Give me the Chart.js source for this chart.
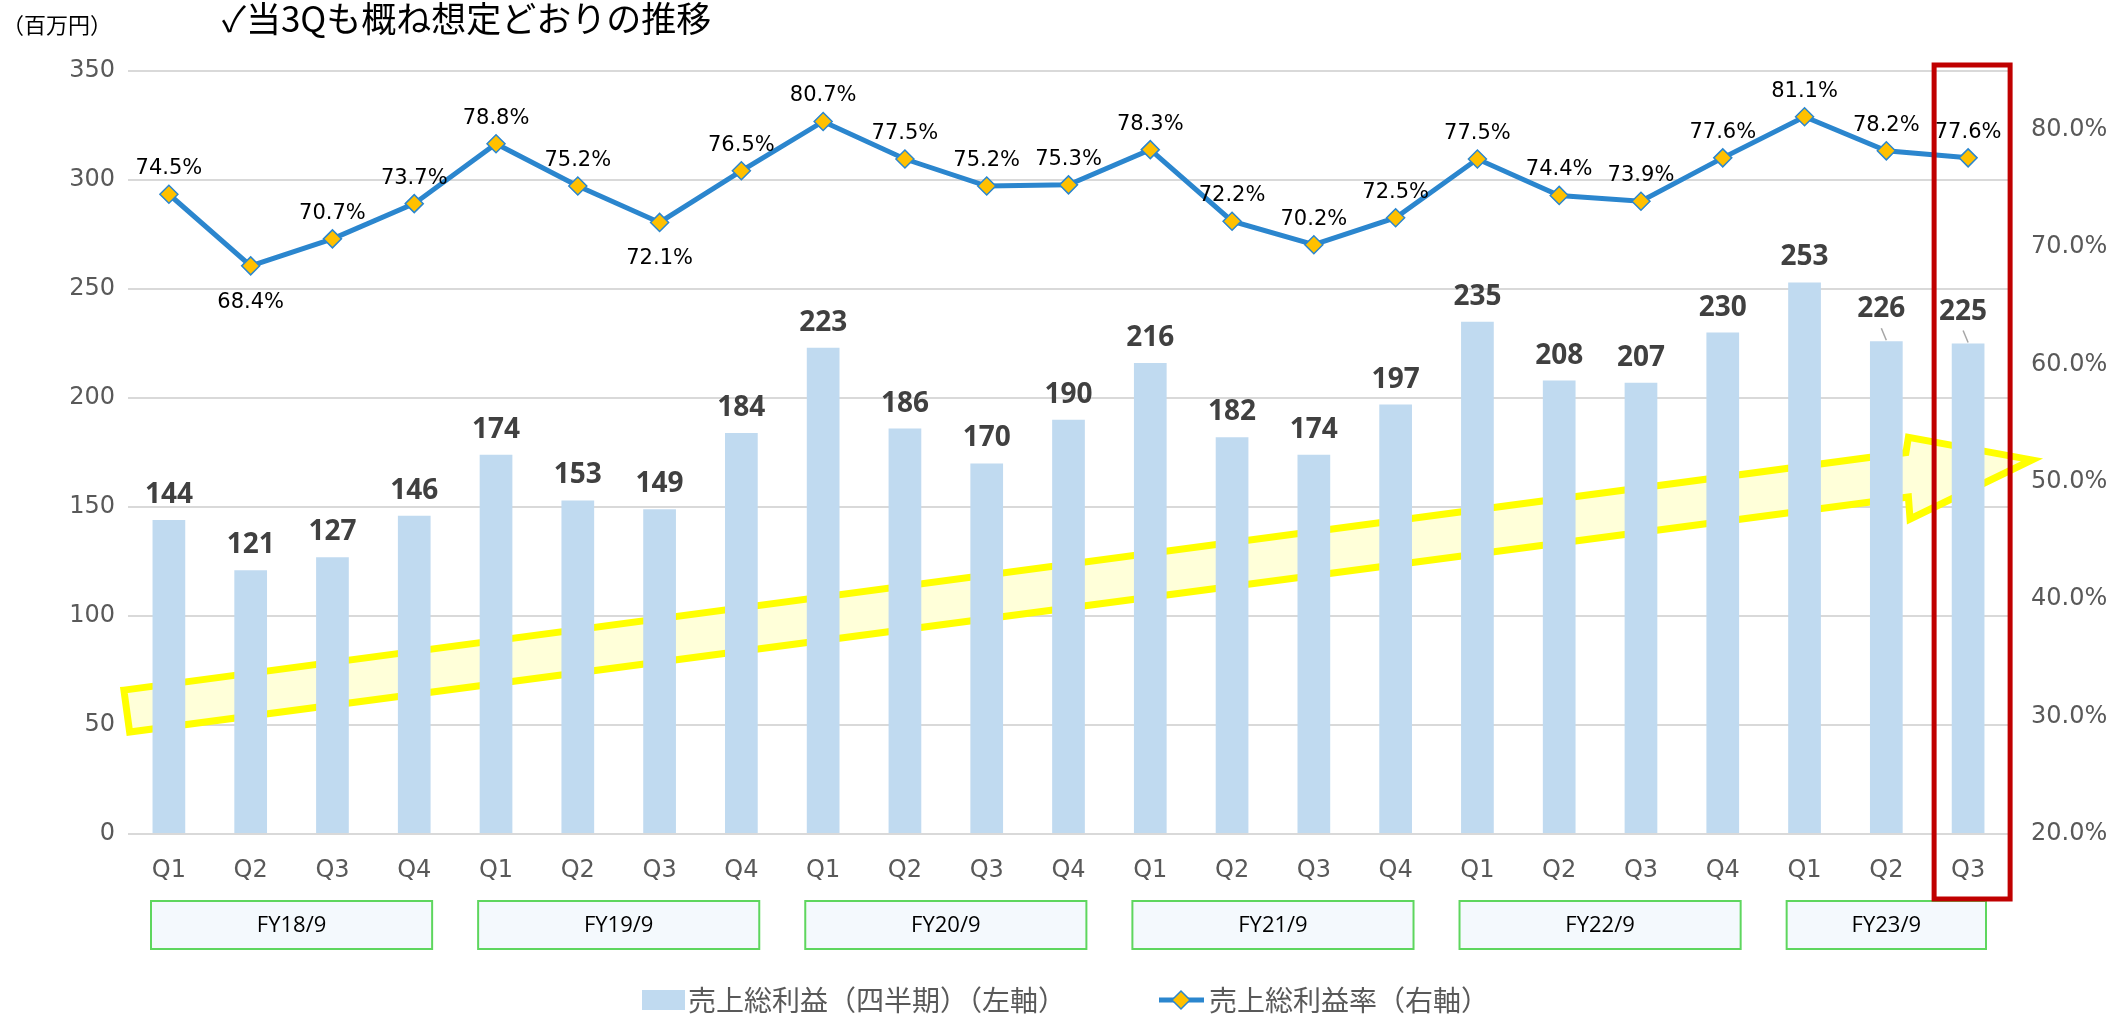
<!DOCTYPE html>
<html lang="ja">
<head>
<meta charset="utf-8">
<script src="https://cdn.jsdelivr.net/npm/chart.js@4.4.1/dist/chart.umd.min.js"></script>
<style>
html, body { margin: 0; padding: 0; background: #fff; }
#wrap { width: 2114px; height: 1015px; position: relative; }
</style>
</head>
<body>
<div id="wrap"><canvas id="myChart"></canvas></div>
<script>
// データ
const quarters = ['Q1','Q2','Q3','Q4','Q1','Q2','Q3','Q4','Q1','Q2','Q3','Q4',
                  'Q1','Q2','Q3','Q4','Q1','Q2','Q3','Q4','Q1','Q2','Q3'];
const fiscalYears = ['FY18/9','FY19/9','FY20/9','FY21/9','FY22/9','FY23/9'];
const fyQuarterCount = [4, 4, 4, 4, 4, 3];
const grossProfit = [144,121,127,146,174,153,149,184,223,186,170,190,
                     216,182,174,197,235,208,207,230,253,226,225];
const grossMargin = [74.5,68.4,70.7,73.7,78.8,75.2,72.1,76.5,80.7,77.5,75.2,75.3,
                     78.3,72.2,70.2,72.5,77.5,74.4,73.9,77.6,81.1,78.2,77.6];
const leftTicks = [0, 50, 100, 150, 200, 250, 300, 350];
const rightTicks = [20, 30, 40, 50, 60, 70, 80];

const FONT_JP = '"Noto Sans CJK JP", "Noto Sans", sans-serif';
const BAR_COLOR = '#C0DAF0';
const LINE_COLOR = '#2B86CE';
const MARKER_COLOR = '#FFC000';

// 下側にラベルを置く点 / 引き出し線付きの棒
const labelBelow = [1, 6];
const leaderIdx = [21, 22];

// 黄色い矢印 (x: カテゴリ位置, y: 左軸の値)
const arrowShape = [[-0.55, 66], [21.24, 175], [21.27, 182], [22.78, 171.6],
                    [21.29, 144.5], [21.27, 154.6], [-0.48, 46.8]];

const decorPlugin = {
    id: 'decor',
    beforeDatasetsDraw(chart) {
        const { ctx, scales: { x, y } } = chart;
        ctx.save();
        ctx.beginPath();
        arrowShape.forEach(([i, v], k) => {
            const px = x.getPixelForValue(i), py = y.getPixelForValue(v);
            k ? ctx.lineTo(px, py) : ctx.moveTo(px, py);
        });
        ctx.closePath();
        ctx.fillStyle = '#FFFFD9';
        ctx.fill();
        ctx.lineWidth = 7;
        ctx.lineJoin = 'miter';
        ctx.strokeStyle = '#FFFF00';
        ctx.stroke();
        ctx.restore();
    },
    afterDatasetsDraw(chart) {
        const { ctx } = chart;
        const barMeta = chart.getDatasetMeta(0);
        const lineMeta = chart.getDatasetMeta(1);
        ctx.save();
        ctx.textAlign = 'center';
        ctx.textBaseline = 'alphabetic';

        // 棒のラベル
        ctx.font = 'bold 28px "Open Sans", sans-serif';
        barMeta.data.forEach((bar, i) => {
            let lift = 17, dx = 0;
            if (leaderIdx.includes(i)) {
                lift = 24; dx = -5;
                ctx.strokeStyle = '#A6A6A6';
                ctx.lineWidth = 1.5;
                ctx.beginPath();
                ctx.moveTo(bar.x - 5, bar.y - 13);
                ctx.lineTo(bar.x, bar.y - 1);
                ctx.stroke();
            }
            ctx.fillStyle = '#404040';
            ctx.fillText(String(grossProfit[i]), bar.x + dx, bar.y - lift);
        });

        // 折れ線のラベル
        ctx.font = '21px "DejaVu Sans", sans-serif';
        ctx.fillStyle = '#000';
        lineMeta.data.forEach((pt, i) => {
            const yy = labelBelow.includes(i) ? pt.y + 42 : pt.y - 20;
            ctx.fillText(grossMargin[i].toFixed(1) + '%', pt.x, yy);
        });
        ctx.restore();
    },
    afterDraw(chart) {
        const { ctx, chartArea, scales: { x } } = chart;
        ctx.save();

        // タイトル・単位
        ctx.textBaseline = 'middle';
        ctx.textAlign = 'left';
        ctx.fillStyle = '#000';
        ctx.font = '22px ' + FONT_JP;
        ctx.fillText('（百万円）', 2, 25);
        ctx.font = '35px ' + FONT_JP;
        ctx.fillText('✓当3Qも概ね想定どおりの推移', 222, 19);

        // 年度ボックス
        const step = x.width / quarters.length;
        let start = 0;
        ctx.font = '22px "Open Sans", sans-serif';
        ctx.textAlign = 'center';
        fiscalYears.forEach((fy, k) => {
            const n = fyQuarterCount[k];
            const cx = (x.getPixelForValue(start) + x.getPixelForValue(start + n - 1)) / 2;
            const half = (n * step - 46) / 2;
            const top = chartArea.bottom + 67, h = 48;
            ctx.fillStyle = '#F4F9FD';
            ctx.fillRect(cx - half, top, half * 2, h);
            ctx.strokeStyle = '#5ED65E';
            ctx.lineWidth = 2;
            ctx.strokeRect(cx - half, top, half * 2, h);
            ctx.fillStyle = '#000';
            ctx.fillText(fy, cx, top + h / 2 + 1);
            start += n;
        });

        // 当3Q を囲む赤枠
        const rx = x.getPixelForValue(quarters.length - 1) + 4;
        ctx.strokeStyle = '#C00000';
        ctx.lineWidth = 5;
        ctx.strokeRect(rx - 38, chartArea.top - 6, 76, chartArea.bottom - chartArea.top + 71);

        // 凡例
        const ly = 1000;
        ctx.font = '28px ' + FONT_JP;
        ctx.textAlign = 'left';
        ctx.fillStyle = BAR_COLOR;
        ctx.fillRect(642, ly - 10, 43, 20);
        ctx.fillStyle = '#595959';
        ctx.fillText('売上総利益（四半期）（左軸）', 688, ly);

        ctx.strokeStyle = LINE_COLOR;
        ctx.lineWidth = 5;
        ctx.beginPath();
        ctx.moveTo(1159, ly);
        ctx.lineTo(1204, ly);
        ctx.stroke();
        ctx.beginPath();
        ctx.moveTo(1181 - 9, ly);
        ctx.lineTo(1181, ly - 9);
        ctx.lineTo(1181 + 9, ly);
        ctx.lineTo(1181, ly + 9);
        ctx.closePath();
        ctx.fillStyle = MARKER_COLOR;
        ctx.fill();
        ctx.lineWidth = 1.5;
        ctx.stroke();
        ctx.fillStyle = '#595959';
        ctx.fillText('売上総利益率（右軸）', 1209, ly);
        ctx.restore();
    }
};

const tickFont = { family: '"DejaVu Sans", sans-serif', size: 24 };

new Chart(document.getElementById('myChart'), {
    data: {
        labels: quarters,
        datasets: [
            {
                type: 'bar',
                label: '売上総利益（四半期）（左軸）',
                data: grossProfit,
                yAxisID: 'y',
                backgroundColor: BAR_COLOR,
                categoryPercentage: 1,
                barPercentage: 0.4,
                order: 1
            },
            {
                type: 'line',
                label: '売上総利益率（右軸）',
                data: grossMargin,
                yAxisID: 'y1',
                borderColor: LINE_COLOR,
                borderWidth: 5,
                tension: 0,
                pointStyle: 'rectRot',
                pointRadius: 9,
                pointBackgroundColor: MARKER_COLOR,
                pointBorderColor: LINE_COLOR,
                pointBorderWidth: 1.5,
                order: 0
            }
        ]
    },
    options: {
        responsive: true,
        maintainAspectRatio: false,
        animation: false,
        layout: { padding: { top: 71, left: 0, right: 0, bottom: 0 } },
        plugins: {
            legend: { display: false },
            tooltip: { enabled: false }
        },
        scales: {
            x: {
                grid: { display: false, drawTicks: false },
                border: { display: false },
                ticks: { font: tickFont, color: '#595959', padding: 22, maxRotation: 0, autoSkip: false },
                afterFit(s) { s.height = 181; }
            },
            y: {
                position: 'left',
                min: 0,
                max: 350,
                afterBuildTicks(s) { s.ticks = leftTicks.map(v => ({ value: v })); },
                grid: { color: '#D9D9D9', lineWidth: 2, drawTicks: false },
                border: { display: false },
                ticks: { font: tickFont, color: '#595959', padding: 13 },
                afterFit(s) { s.width = 128; }
            },
            y1: {
                position: 'right',
                min: 20,
                max: 85,
                afterBuildTicks(s) { s.ticks = rightTicks.map(v => ({ value: v })); },
                grid: { display: false, drawTicks: false },
                border: { display: false },
                ticks: {
                    font: tickFont,
                    color: '#595959',
                    padding: 22,
                    callback: v => v.toFixed(1) + '%'
                },
                afterFit(s) { s.width = 105; }
            }
        }
    },
    plugins: [decorPlugin]
});
</script>
</body>
</html>
